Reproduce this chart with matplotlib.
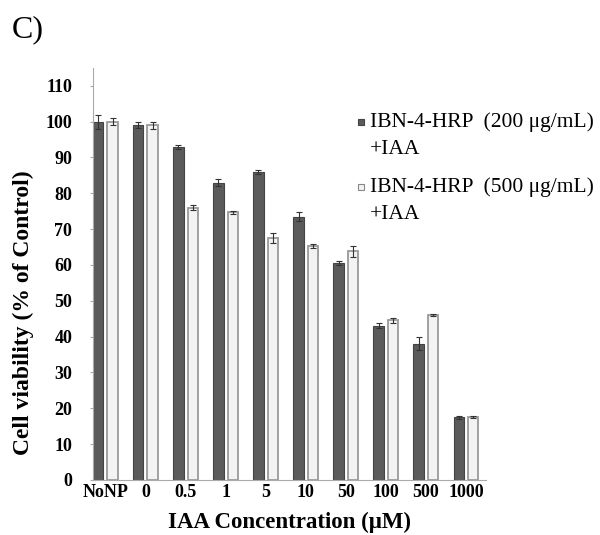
import matplotlib
matplotlib.use("Agg")
import matplotlib.pyplot as plt
import numpy as np
from matplotlib.patches import Rectangle

categories = ["NoNP", "0", "0.5", "1", "5", "10", "50", "100", "500", "1000"]
dose200 = [100, 99, 93, 83, 86, 73.5, 60.5, 43, 38, 17.5]
err200 = [2.0, 0.8, 0.5, 1.0, 0.5, 1.2, 0.5, 0.7, 1.8, 0.4]
dose500 = [100, 99, 76, 74.7, 67.5, 65.3, 63.8, 44.5, 46, 17.5]
err500 = [1.0, 1.0, 0.7, 0.5, 1.5, 0.5, 1.5, 0.7, 0.3, 0.3]
legend_first = ["IBN-4-HRP  (200 μg/mL)", "IBN-4-HRP  (500 μg/mL)"]
legend_second = ["+IAA", "+IAA"]

plt.rcParams['font.family'] = ['Liberation Serif', 'DejaVu Serif']

fig = plt.figure(figsize=(6.0, 5.35), dpi=100)
ax = fig.add_axes([0.155, 0.103, 0.655, 0.770])

dark_fc, dark_ec = "#5b5b5b", "#444444"
light_fc, light_ec = "#f3f3f3", "#9a9a9a"

x = np.arange(len(categories))
w = 0.26
off = 0.18
ekw = dict(ecolor="#333333", elinewidth=0.8, capsize=2, capthick=0.8)
ax.bar(x - off, dose200, w, color=dark_fc, edgecolor=dark_ec, linewidth=0.8,
       yerr=err200, error_kw=ekw)
ax.bar(x + off, dose500, w, color=light_fc, edgecolor=light_ec, linewidth=1.3,
       yerr=err500, error_kw=ekw)

ax.set_xlim(-0.31, 9.5)
ax.set_ylim(0, 115)
ax.set_yticks(np.arange(0, 111, 10))
ax.set_xticks(x)
ax.set_xticklabels(categories, fontsize=13, fontweight="bold")
for t in ax.get_yticklabels():
    t.set_fontsize(13)
    t.set_fontweight("bold")
ax.tick_params(axis="y", length=2, color="#aaaaaa", pad=13)
ax.tick_params(axis="x", length=0, pad=3)
ax.spines["top"].set_visible(False)
ax.spines["right"].set_visible(False)
ax.spines["left"].set_color("#aaaaaa")
ax.spines["bottom"].set_color("#aaaaaa")

ax.set_xlabel("IAA Concentration (μM)", fontsize=16.5, fontweight="bold", labelpad=8)
ax.set_ylabel("Cell viability (% of Control)", fontsize=17, fontweight="bold")
ax.yaxis.set_label_coords(-0.15, 0.405)

# legend (drawn in figure coordinates)
W, H = 600.0, 535.0
entries = [(dark_fc, dark_ec, 122), (light_fc, "#888888", 187)]
for (fc, ec, ypx), l1, l2 in zip(entries, legend_first, legend_second):
    sq = 6.0
    fig.patches.append(Rectangle(((358) / W, 1 - (ypx + sq / 2) / H), sq / W, sq / H,
                                 facecolor=fc, edgecolor=ec, linewidth=0.8,
                                 transform=fig.transFigure, figure=fig))
    fig.text(370 / W, 1 - ypx / H, l1, fontsize=15.5, va="center", ha="left")
    fig.text(370 / W, 1 - (ypx + 28) / H, l2, fontsize=15.5, va="center", ha="left")

fig.text(0.02, 0.93, "C)", fontsize=23)

fig.savefig("out.png", dpi=100)
